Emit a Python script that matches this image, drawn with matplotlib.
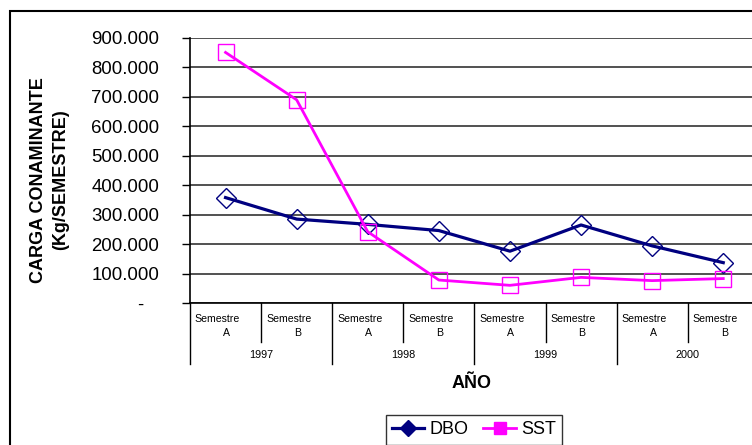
import matplotlib
matplotlib.use("Agg")
import matplotlib.pyplot as plt
from matplotlib.lines import Line2D
from matplotlib.patches import Rectangle
from matplotlib.ticker import FuncFormatter

plt.rcParams['font.family'] = ['Liberation Sans', 'DejaVu Sans']

semesters = ["A", "B", "A", "B", "A", "B", "A", "B"]
years = ["1997", "1998", "1999", "2000"]
dbo = [358000, 285000, 267000, 246000, 176000, 265000, 194000, 137000]
sst = [851000, 690000, 242000, 78000, 60000, 87000, 76000, 83000]
yticks = [0, 100000, 200000, 300000, 400000, 500000, 600000, 700000, 800000, 900000]

W, H = 752, 445
fig = plt.figure(figsize=(W / 100, H / 100), dpi=100)

# axes geometry in pixels
left_px, bottom_px, top_px = 190, 303, 38
cat_w = 71.1
ax = fig.add_axes([left_px / W, 1 - bottom_px / H, 8 * cat_w / W, (bottom_px - top_px) / H])

x = list(range(len(dbo)))
ax.plot(x, dbo, color='#000080', lw=2.3, marker='D', ms=10, mfc='none', mec='#000080', mew=1.0, zorder=3)
ax.plot(x, sst, color='#FF00FF', lw=2.0, marker='s', ms=12, mfc='none', mec='#FF00FF', mew=1.0, zorder=3)

ax.set_xlim(-0.5, len(dbo) - 0.5)
ax.set_ylim(0, 900000)
ax.set_yticks(yticks)
ax.yaxis.set_major_formatter(FuncFormatter(lambda v, p: '-   ' if v == 0 else f"{v/1000:.3f}"))
ax.tick_params(axis='y', direction='out', length=6, width=1, labelsize=13.4, pad=16, colors='black')
ax.set_xticks([])
ax.grid(axis='y', color='#222222', lw=1.1)
ax.set_axisbelow(True)
for s in ['top', 'right']:
    ax.spines[s].set_visible(False)
ax.spines['left'].set_linewidth(1.2)
ax.spines['bottom'].set_linewidth(1.2)

# category axis labels
tr = ax.get_xaxis_transform()
hpx = bottom_px - top_px
def yf(py):
    return (bottom_px - py) / hpx

for i, s in enumerate(semesters):
    ax.text(i - 8 / cat_w, yf(319), "Semestre", transform=tr, ha='center', va='center', fontsize=7.6, clip_on=False)
    ax.text(i + 1 / cat_w, yf(333), s, transform=tr, ha='center', va='center', fontsize=7.6, clip_on=False)
for k, yr in enumerate(years):
    ax.text(2 * k + 0.5, yf(355), yr, transform=tr, ha='center', va='center', fontsize=7.8, clip_on=False)
for j in range(len(dbo) + 1):
    xb = j - 0.5
    y_end = yf(364) if j % 2 == 0 else yf(342)
    ax.plot([xb, xb], [0, y_end], transform=tr, color='black', lw=1, clip_on=False)

ax.text(3.5 + (472 - (left_px + 4 * cat_w)) / cat_w, yf(383), "AÑO", transform=tr, ha='center', va='center',
        fontsize=13, fontweight='bold', clip_on=False)

fig.text(49.5 / W, 1 - 180 / H, "CARGA CONAMINANTE\n(Kg/SEMESTRE)", rotation=90, ha='center', va='center',
         fontsize=13, fontweight='bold', multialignment='center', linespacing=1.35)

# figure border
fig.patches.append(Rectangle((10 / W, -0.2), 1.2, 1.2 - 11 / H, transform=fig.transFigure,
                             fill=False, edgecolor='black', lw=1.5))

handles = [Line2D([], [], color='#000080', lw=2.3, marker='D', ms=8, mfc='#000080', mec='#000080'),
           Line2D([], [], color='#FF00FF', lw=2.0, marker='s', ms=9, mfc='#FF00FF', mec='#FF00FF')]
leg = fig.legend(handles, ["DBO", "SST"], loc='upper center', bbox_to_anchor=(474 / W, 1 - 415 / H),
                 ncol=2, frameon=True, fancybox=False, edgecolor='black', fontsize=13,
                 handlelength=1.8, columnspacing=0.8, handletextpad=0.3, borderpad=0.35,
                 borderaxespad=0)
leg.get_frame().set_linewidth(1.0)

fig.savefig("out.png", dpi=100)
